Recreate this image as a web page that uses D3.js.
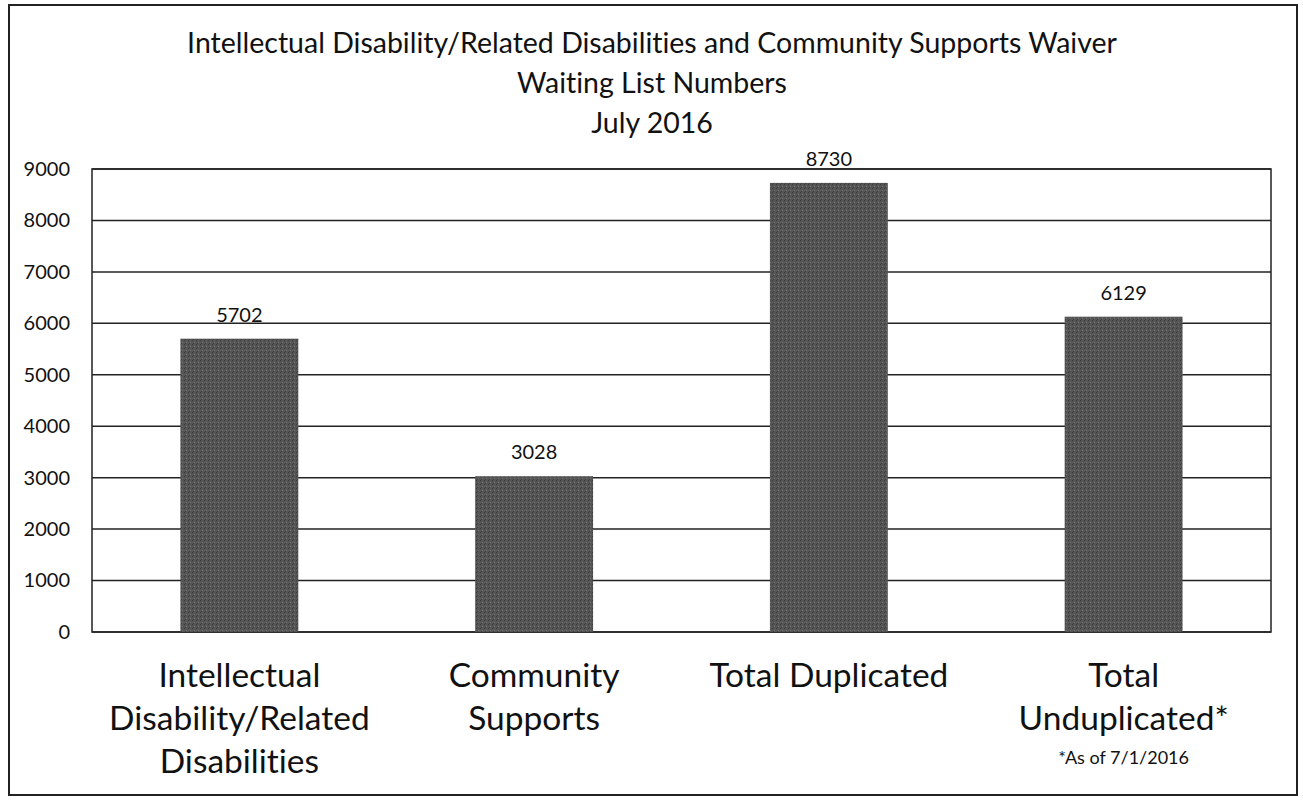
<!DOCTYPE html>
<html><head><meta charset="utf-8">
<script src="https://cdn.jsdelivr.net/npm/d3@7"></script>
<style>body{margin:0;background:#fff}svg{display:block}text{font-family:Lato,"Open Sans",sans-serif;fill:#111;font-variant-ligatures:none}</style>
</head><body><svg id="c" width="1303" height="800"></svg>
<script>
const categories = [["Intellectual","Disability/Related","Disabilities"],["Community","Supports"],["Total Duplicated"],["Total","Unduplicated*"]];
const values = [5702, 3028, 8730, 6129];
const yTicks = [0,1000,2000,3000,4000,5000,6000,7000,8000,9000];
const titleLines = ["Intellectual Disability/Related Disabilities and Community Supports Waiver","Waiting List Numbers","July 2016"];
const footnote = "*As of 7/1/2016";

const svg = d3.select("#c");
const m = {l:92, r:1271, t:169, b:632};
svg.append("rect").attr("x",9).attr("y",5).attr("width",1288).attr("height",790).attr("fill","none").attr("stroke","#222").attr("stroke-width",2);

const x = d3.scaleBand().domain(d3.range(values.length)).range([m.l,m.r]).paddingInner(0.6).paddingOuter(0.3);
const y = d3.scaleLinear().domain([0,9000]).range([m.b,m.t]);

// gridlines
svg.append("g").selectAll("line").data(yTicks).join("line")
  .attr("x1",m.l).attr("x2",m.r).attr("y1",d=>y(d)).attr("y2",d=>y(d))
  .attr("stroke","#222").attr("stroke-width",1.5);
svg.append("rect").attr("x",m.l).attr("y",m.t).attr("width",m.r-m.l).attr("height",m.b-m.t)
  .attr("fill","none").attr("stroke","#222").attr("stroke-width",1.5);

// y axis labels
const ya = svg.append("g").attr("transform",`translate(${m.l},0)`).call(d3.axisLeft(y).tickValues(yTicks).tickSize(0).tickPadding(22).tickFormat(d3.format("d")));
ya.select(".domain").remove();
ya.selectAll("text").style("font-size","20px").style("font-family","Lato,sans-serif").attr("fill","#111");

// texture pattern
const defs = svg.append("defs");
const pat = defs.append("pattern").attr("id","tex").attr("width",4).attr("height",4).attr("patternUnits","userSpaceOnUse");
pat.append("rect").attr("width",4).attr("height",4).attr("fill","#555");
pat.append("rect").attr("width",1).attr("height",1).attr("x",0).attr("y",0).attr("fill","#3a3a3a");
pat.append("rect").attr("width",1).attr("height",1).attr("x",2).attr("y",2).attr("fill","#727272");
pat.append("rect").attr("width",1).attr("height",1).attr("x",1).attr("y",3).attr("fill","#404040");

svg.append("g").selectAll("rect").data(values).join("rect")
  .attr("x",(d,i)=>x(i)).attr("width",x.bandwidth())
  .attr("y",d=>y(d)).attr("height",d=>y(0)-y(d))
  .attr("fill","url(#tex)");

svg.append("g").selectAll("text").data(values).join("text")
  .attr("x",(d,i)=>x(i)+x.bandwidth()/2).attr("y",d=>y(d)-17)
  .attr("text-anchor","middle").style("font-size","20px").text(d=>d);

// title
svg.append("g").selectAll("text").data(titleLines).join("text")
  .attr("x",652).attr("y",(d,i)=>53+i*40).attr("text-anchor","middle")
  .style("font-size","28.5px").text(d=>d);

// category labels
const cg = svg.append("g");
categories.forEach((lines,i)=>{
  cg.append("text").attr("x",x(i)+x.bandwidth()/2).attr("text-anchor","middle").style("font-size","33.5px")
    .selectAll("tspan").data(lines).join("tspan")
    .attr("x",x(i)+x.bandwidth()/2).attr("y",(d,j)=>687+j*43).text(d=>d);
});
svg.append("text").attr("x",x(3)+x.bandwidth()/2).attr("y",764).attr("text-anchor","middle").style("font-size","18px").text(footnote);
</script></body></html>
